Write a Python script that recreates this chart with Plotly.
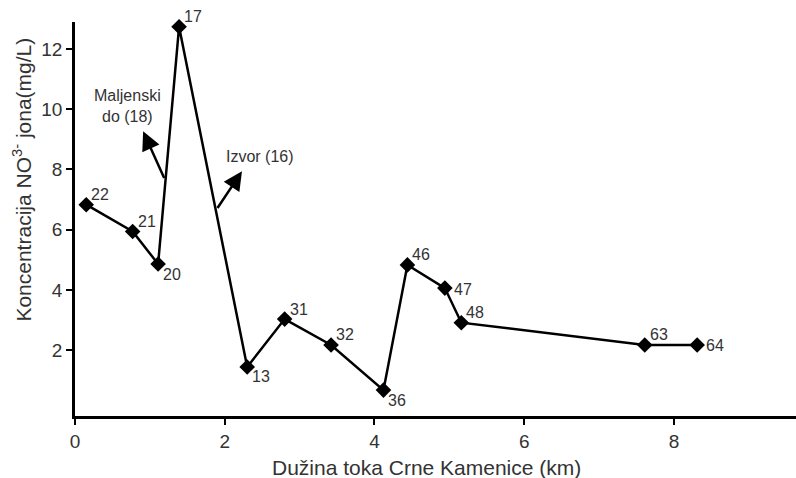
import plotly.graph_objects as go

# data
distance_km = [0.15, 0.77, 1.11, 1.39, 2.30, 2.80, 3.42, 4.12, 4.44, 4.94, 5.16, 7.61, 8.31]
nitrate = [6.83, 5.94, 4.86, 12.74, 1.44, 3.03, 2.17, 0.67, 4.83, 4.06, 2.91, 2.17, 2.17]
station = ["22", "21", "20", "17", "13", "31", "32", "36", "46", "47", "48", "63", "64"]
label_side = ["up", "up", "down", "up", "down", "up", "up", "down", "up", "mid", "up", "up", "mid"]

# tributaries: arrow tail on the line, arrow head, label
trib_names = ["Maljenski<br>do (18)", "Izvor (16)"]
trib_tail_x = [1.20, 1.89]
trib_tail_y = [7.67, 6.67]
trib_head_x = [0.91, 2.23]
trib_head_y = [9.27, 7.94]
trib_label_x = [0.70, 2.47]
trib_label_y = [10.1, 8.43]

x_ticks = [0, 2, 4, 6, 8, 10]
y_ticks = [2, 4, 6, 8, 10, 12]
x_title = "Dužina toka Crne Kamenice (km)"
y_title = "Koncentracija NO<sup>3-</sup> jona(mg/L)"

font_family = "Liberation Sans, Arial, sans-serif"
text_color = "#333333"
shift_y = {"up": 10, "down": -10, "mid": -1}

fig = go.Figure()
fig.add_trace(go.Scatter(
    x=distance_km, y=nitrate, mode="lines+markers",
    line=dict(color="black", width=2.5),
    marker=dict(symbol="diamond", size=12, color="black"),
    cliponaxis=False, showlegend=False,
))

for sx, sy, name, side in zip(distance_km, nitrate, station, label_side):
    fig.add_annotation(x=sx, y=sy, xref="x", yref="y", text=name, showarrow=False,
                       xanchor="left", yanchor="middle", xshift=3 if side != "mid" else 7,
                       yshift=shift_y[side],
                       font=dict(family=font_family, size=16, color=text_color))

for name, tx, ty, hx, hy, lx, ly in zip(trib_names, trib_tail_x, trib_tail_y,
                                        trib_head_x, trib_head_y, trib_label_x, trib_label_y):
    fig.add_annotation(x=hx, y=hy, ax=tx, ay=ty, xref="x", yref="y", axref="x", ayref="y",
                       text="", showarrow=True, arrowhead=2, arrowsize=1.5,
                       arrowwidth=2.5, arrowcolor="black")
    fig.add_annotation(x=lx, y=ly, xref="x", yref="y", text=name, showarrow=False,
                       font=dict(family=font_family, size=16, color=text_color),
                       align="center")

# axis titles
fig.add_annotation(x=0.487, y=-0.13, xref="paper", yref="paper", text=x_title,
                   showarrow=False, xanchor="center", yanchor="middle",
                   font=dict(family=font_family, size=21, color=text_color))
fig.add_annotation(x=0, y=0.60, xref="paper", yref="paper", text=y_title,
                   showarrow=False, xanchor="center", yanchor="middle", xshift=-53,
                   textangle=-90,
                   font=dict(family=font_family, size=21, color=text_color))

fig.update_layout(
    width=796, height=478,
    margin=dict(l=75, r=0, t=22, b=62),
    paper_bgcolor="white", plot_bgcolor="white",
    font=dict(family=font_family, color=text_color),
    xaxis=dict(range=[0, 9.63], tickvals=x_ticks, ticks="outside", ticklen=6, tickwidth=2,
               tickcolor="black", showline=True, linecolor="black", linewidth=2.5,
               showgrid=False, zeroline=False, automargin=False,
               tickfont=dict(size=19, color=text_color)),
    yaxis=dict(range=[-0.19, 12.9], tickvals=y_ticks, ticks="outside", ticklen=6, tickwidth=2,
               tickcolor="black", showline=True, linecolor="black", linewidth=2.5,
               showgrid=False, zeroline=False, automargin=False,
               tickfont=dict(size=19, color=text_color)),
)

fig.write_html("out.html", post_script="document.body.style.margin='0';",
               config={"displayModeBar": False})
